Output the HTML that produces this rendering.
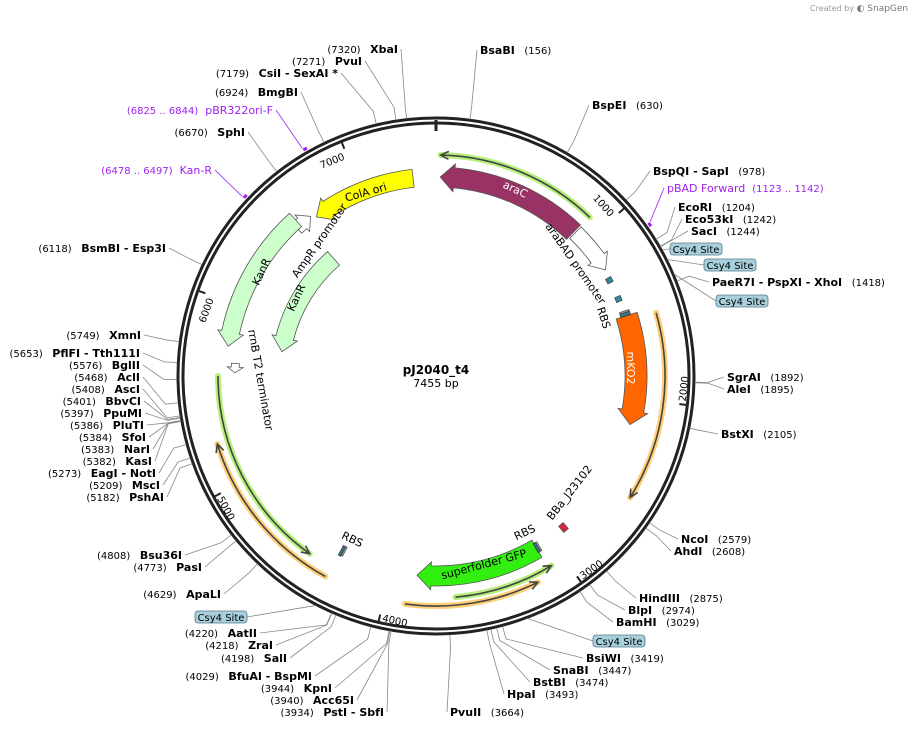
<!DOCTYPE html>
<html><head><meta charset="utf-8"><style>
html,body{margin:0;padding:0;background:#fff;}
svg{display:block;font-family:"DejaVu Sans","Liberation Sans",sans-serif;}
.nm{font-weight:bold;font-size:11px;fill:#000}
.ps{font-size:10px;fill:#000}
</style></head><body>
<svg id="map" width="908" height="730" viewBox="0 0 908 730" xmlns="http://www.w3.org/2000/svg">
<text x="810" y="11" font-size="8" fill="#999">Created by <tspan fill="#777" font-size="9">◐ SnapGene</tspan></text>
<g id="g"></g>
<text x="436" y="374" text-anchor="middle" font-weight="bold" font-size="12">pJ2040_t4</text>
<text x="436" y="387" text-anchor="middle" font-size="11">7455 bp</text>
</svg>
<script>
const total = 7455;
const tickPositions = [1000,2000,3000,4000,5000,6000,7000];
// features: name, start, end, direction
const featNames = ["araC","araBAD promoter","mKO2","superfolder GFP","ColA ori","AmpR promoter","KanR","KanR-inner","rrnB T2 terminator","BBa_J23102","RBS-1","RBS-2","RBS-3"];
const featStarts = [25,915,1500,3100,6690,6560,5760,5777,5610,2880,1470,3080,4295];
const featEnds   = [905,1200,2155,3840,7318,6665,6586,6605,5665,2915,1500,3105,4320];
const featDirs   = [-1,1,1,1,-1,1,-1,-1,-1,1,1,1,1];
const csy4Positions = [1259,1384];
// primer-like annotation lines
const lineStarts = [25,1532,3079,3183,4461,4326];
const lineEnds   = [914,2527,3624,3888,5591,5233];
const lineDirs   = [-1,1,-1,-1,-1,1];
// enzyme sites
const enzNames = ["BsaBI","BspEI","BspQI - SapI","EcoRI","Eco53kI","SacI","PaeR7I - PspXI - XhoI","SgrAI","AleI","BstXI","NcoI","AhdI","HindIII","BlpI","BamHI","BsiWI","SnaBI","BstBI","HpaI","PvuII",
"XbaI","PvuI","CsiI - SexAI *","BmgBI","SphI","BsmBI - Esp3I","XmnI","PflFI - Tth111I","BglII","AclI","AscI","BbvCI","PpuMI","PluTI","SfoI","NarI","KasI","EagI - NotI","MscI","PshAI","Bsu36I","PasI","ApaLI","AatII","ZraI","SalI","BfuAI - BspMI","KpnI","Acc65I","PstI - SbfI"];
const enzPos = [156,630,978,1204,1242,1244,1418,1892,1895,2105,2579,2608,2875,2974,3029,3419,3447,3474,3493,3664,
7320,7271,7179,6924,6670,6118,5749,5653,5576,5468,5408,5401,5397,5386,5384,5383,5382,5273,5209,5182,4808,4773,4629,4220,4218,4198,4029,3944,3940,3934];
// label layout (not data)
const enzLabelXY = [[480,54],[592,109],[653,175],[678,211],[685,223],[691,235],[712,286],[727,381],[727,393],[721,438],[681,543],[674,555],[639,602],[628,614],[616,626],[586,662],[553,674],[533,686],[507,698],[450,716],
[398,53],[362,65],[338,77],[298,96],[245,136],[166,252],[141,339],[140,357],[140,369],[140,381],[140,393],[141,405],[142,417],[144,429],[146,441],[150,453],[152,465],[156,477],[160,489],[164,501],[182,559],[202,571],[221,598],[257,637],[273,649],[287,662],[312,680],[332,692],[354,704],[384,716]];

const cx=436, cy=376, NS="http://www.w3.org/2000/svg";
const g=document.getElementById('g');
function ang(p){return p/total*2*Math.PI;}
function P(p,r){const a=ang(p);return [cx+r*Math.sin(a), cy-r*Math.cos(a)];}
function mk(tag,attrs,parent){const e=document.createElementNS(NS,tag);for(const k in attrs)e.setAttribute(k,attrs[k]);(parent||g).appendChild(e);return e;}
function arcD(p0,p1,r){const a=P(p0,r),b=P(p1,r);const large=(p1-p0)/total>0.5?1:0;return `M${a[0]} ${a[1]} A${r} ${r} 0 ${large} 1 ${b[0]} ${b[1]}`;}

// ring
let e=mk('circle',{cx,cy,r:258,fill:'none',stroke:'#222','stroke-width':3});


e=mk('circle',{cx,cy,r:253,fill:'none',stroke:'#222','stroke-width':3});


let t0=P(0,245),t1=P(0,256);
e=mk('line',{x1:t0[0],y1:t0[1],x2:t1[0],y2:t1[1],stroke:'#222','stroke-width':3});



// ticks
tickPositions.forEach(p=>{
  const a=P(p,245),b=P(p,252);
  let l=mk('line',{x1:a[0],y1:a[1],x2:b[0],y2:b[1],stroke:'#222','stroke-width':2});
  
  
  let deg=p/total*360, flip=deg>90&&deg<270;
  let rot=flip?deg-180:deg;
  const q=P(p,243);
  let t=mk('text',{x:q[0],y:q[1],'font-size':10,'text-anchor':flip?'start':'end',transform:`rotate(${rot} ${q[0]} ${q[1]}) translate(${flip?3:-3} 8)`});
  t.textContent=p;
  
  
});

// annotation lines with glow
const glowCols=['#b6f07a','#ffcf7a','#b6f07a','#ffcf7a','#b6f07a','#ffcf7a'];
const lineR=[221,229,222,230,218,229];
lineStarts.forEach((s,i)=>{
  const r=lineR[i], en=lineEnds[i];
  let gl=mk('path',{d:arcD(s,en,r),fill:'none',stroke:glowCols[i],'stroke-width':6,'stroke-linecap':'round'});
  
  
  let ln=mk('path',{d:arcD(s,en,r),fill:'none',stroke:'#444','stroke-width':1.6});
  
  
  const tip=lineDirs[i]>0?en:s, d=lineDirs[i]>0?-1:1;
  const back=tip+d*8/r/(2*Math.PI)*total;
  const a=P(tip,r),b=P(back,r+4),c=P(back,r-4);
  let h=mk('path',{d:`M${b[0]} ${b[1]} L${a[0]} ${a[1]} L${c[0]} ${c[1]}`,fill:'none',stroke:'#444','stroke-width':1.6});
  
  
});

// features
const fCol=['#993366','#ffffff','#ff6600','#33ee11','#ffff00','#ffffff','#ccffcc','#ccffcc','#ffffff','#dd2244','#999999','#999999','#999999'];
const fR=[199,200,200,200,199,203,210,156,201,198,199,199,198];
const fW=[20,16,22,20,18,14,18,18,8,8,10,10,10];
function arrowPath(s,en,r,w,dir,head){
  const hl=Math.min(head, (en-s)/total*2*Math.PI*r*0.6);
  const dp=hl/r/(2*Math.PI)*total;
  const ro=r+w/2, ri=r-w/2;
  if(dir>0){
    const b=en-dp;
    const A=P(s,ro),B=P(b,ro),C=P(b,ro+4),T=P(en,r),D=P(b,ri-4),E=P(b,ri),F=P(s,ri);
    return `M${A[0]} ${A[1]} A${ro} ${ro} 0 0 1 ${B[0]} ${B[1]} L${C[0]} ${C[1]} L${T[0]} ${T[1]} L${D[0]} ${D[1]} L${E[0]} ${E[1]} A${ri} ${ri} 0 0 0 ${F[0]} ${F[1]} Z`;
  } else {
    const b=s+dp;
    const A=P(en,ro),B=P(b,ro),C=P(b,ro+4),T=P(s,r),D=P(b,ri-4),E=P(b,ri),F=P(en,ri);
    return `M${A[0]} ${A[1]} A${ro} ${ro} 0 0 0 ${B[0]} ${B[1]} L${C[0]} ${C[1]} L${T[0]} ${T[1]} L${D[0]} ${D[1]} L${E[0]} ${E[1]} A${ri} ${ri} 0 0 1 ${F[0]} ${F[1]} Z`;
  }
}
featNames.forEach((n,i)=>{
  const small=i>=9;
  let d;
  if(small){
    const ro=fR[i]+fW[i]/2, ri=fR[i]-fW[i]/2;
    const A=P(featStarts[i],ro),B=P(featEnds[i],ro),C=P(featEnds[i],ri),D=P(featStarts[i],ri);
    d=`M${A[0]} ${A[1]} L${B[0]} ${B[1]} L${C[0]} ${C[1]} L${D[0]} ${D[1]} Z`;
  } else d=arrowPath(featStarts[i],featEnds[i],fR[i],fW[i],featDirs[i],14);
  let f=mk('path',{d,fill:fCol[i],stroke:'#555','stroke-width':0.8});
  
  
});
// teal ends of RBS
[[1480,1500],[3090,3105],[4305,4320]].forEach((se,i)=>{
  const A=P(se[0],204),B=P(se[1],204),C=P(se[1],194),D=P(se[0],194);
  let f=mk('path',{d:`M${A[0]} ${A[1]} L${B[0]} ${B[1]} L${C[0]} ${C[1]} L${D[0]} ${D[1]} Z`,fill:'#337788',stroke:'#333','stroke-width':0.6});
  
  
});
csy4Positions.forEach((p,i)=>{
  const A=P(p-10,201),B=P(p+22,201),C=P(p+22,195),D=P(p-10,195);
  let f=mk('path',{d:`M${A[0]} ${A[1]} L${B[0]} ${B[1]} L${C[0]} ${C[1]} L${D[0]} ${D[1]} Z`,fill:'#338899',stroke:'#333','stroke-width':0.6});
  
  
});

// feature labels (layout)
const fLabels=[["araC",515,190,25,'#fff'],["ColA ori",366,193,-16,'#000'],["KanR",262,272,-65,'#000'],["KanR",297,298,-65,'#000'],["mKO2",630,368,90,'#fff'],["superfolder GFP",484,565,-15,'#000'],
["araBAD promoter",575,264,55,'#000'],["RBS",603,318,72,'#000'],["AmpR promoter",320,241,-55,'#000'],["rrnB T2 terminator",260,380,80,'#000'],["RBS",352,540,25,'#000'],["RBS",525,533,-25,'#000'],["BBa_J23102",570,493,-52,'#000']];
fLabels.forEach((L,i)=>{
  let t=mk('text',{x:L[1],y:L[2],'font-size':11,fill:L[4],'text-anchor':'middle',transform:`rotate(${L[3]} ${L[1]} ${L[2]})`,'dominant-baseline':'middle'});
  t.textContent=L[0];
  
  
});

// enzymes
enzNames.forEach((n,i)=>{
  const p=enzPos[i], xy=enzLabelXY[i];
  const right=p<3700;
  const a=P(p,259), b=P(p,272);
  const ex=right?xy[0]-3:xy[0]+3, ey=xy[1]-4;
  let l=mk('path',{d:`M${a[0]} ${a[1]} L${b[0]} ${b[1]} L${ex} ${ey}`,fill:'none',stroke:'#888','stroke-width':0.8});
  
  
  let t=mk('text',{x:xy[0],y:xy[1],'text-anchor':right?'start':'end'});
  
  
  const s1=document.createElementNS(NS,'tspan'), s2=document.createElementNS(NS,'tspan');
  if(right){s1.setAttribute('class','nm');s1.textContent=n;s2.setAttribute('class','ps');s2.textContent='\u00a0\u00a0\u00a0('+p+')';t.appendChild(s1);t.appendChild(s2);}
  else{s2.setAttribute('class','ps');s2.textContent='('+p+')\u00a0\u00a0\u00a0';s1.setAttribute('class','nm');s1.textContent=n;t.appendChild(s2);t.appendChild(s1);}
});

// primers (purple)
const primerNames=["pBAD Forward","pBR322ori-F","Kan-R"];
const primerStarts=[1123,6825,6478];
const primerEnds=[1142,6844,6497];
const primerLab=[[667,192,'start'],[273,114,'end'],[212,174,'end']];
primerNames.forEach((n,i)=>{
  let d=mk('path',{d:arcD(primerStarts[i],primerEnds[i],262),fill:'none',stroke:'#a020f0','stroke-width':3});
  
  
  const a=P(primerStarts[i],264), L=primerLab[i];
  let l=mk('line',{x1:a[0],y1:a[1],x2:L[2]=='start'?L[0]-3:L[0]+3,y2:L[1]-4,stroke:'#a020f0','stroke-width':0.8});
  
  
  let t=mk('text',{x:L[0],y:L[1],'text-anchor':L[2],fill:'#a020f0','font-size':11});
  const rng='('+primerStarts[i]+' .. '+primerEnds[i]+')';
  t.innerHTML=L[2]=='start'?`${n}\u00a0\u00a0<tspan font-size="10">${rng}</tspan>`:`<tspan font-size="10">${rng}</tspan>\u00a0\u00a0${n}`;
  
  
});

// Csy4 site boxes
const csyBoxes=[[670,243],[704,259],[716,295],[195,611],[593,635]];
const csyBoxPos=[1259,1310,1384,4300,3300];
csyBoxes.forEach((b,i)=>{
  const a=P(csyBoxPos[i],259);
  const lx=b[0]<436?b[0]+52:b[0];
  let l=mk('line',{x1:a[0],y1:a[1],x2:lx,y2:b[1]+6,stroke:'#888','stroke-width':0.8});
  
  
  let r=mk('rect',{x:b[0],y:b[1],width:52,height:12,rx:3,fill:'#a8d0dc',stroke:'#557788','stroke-width':0.8});
  
  
  let t=mk('text',{x:b[0]+26,y:b[1]+10,'text-anchor':'middle','font-size':10});
  t.textContent='Csy4 Site';
  
  
});
</script>
</body></html>
